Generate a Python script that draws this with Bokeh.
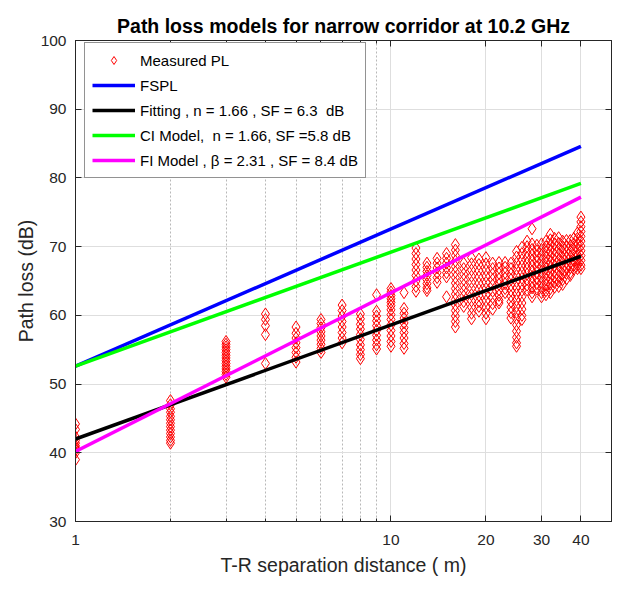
from bokeh.plotting import figure
from bokeh.models import (LinearAxis, LogAxis, FixedTicker, Legend, LegendItem,
                          Range1d, PrintfTickFormatter, CustomJSTickFormatter)
from bokeh.embed import file_html
from bokeh.resources import INLINE

# ---------------- data ----------------
measured_d = [1, 2, 3, 4, 5, 6, 7, 8, 9, 10, 11, 12, 13, 14, 15, 16, 17, 18, 19, 20,
              21, 22, 23, 24, 25, 26, 27, 28, 29, 30, 31, 32, 33, 34, 35, 36, 37, 38, 39, 40]
measured_pl = [
    [44.2, 43.4, 42.3, 41.8, 41.4, 41.0, 40.7, 40.4, 40.0, 39.0],
    [47.6, 47.0, 46.4, 45.9, 45.3, 44.8, 44.3, 43.8, 43.3, 42.8, 42.3, 41.8, 41.4],
    [56.2, 55.8, 55.4, 55.0, 54.6, 54.2, 53.8, 53.4, 53.0, 52.6, 52.2, 51.8, 51.4, 51.0],
    [60.2, 59.4, 58.5, 57.2, 53.0],
    [58.3, 57.4, 56.7, 56.0, 55.3, 54.6, 53.9, 53.2],
    [59.4, 58.8, 58.2, 57.6, 57.0, 56.4, 55.8, 55.2, 54.6],
    [61.5, 60.7, 59.9, 59.1, 58.3, 57.5, 56.7, 56.0],
    [60.2, 59.5, 58.7, 58.0, 57.2, 56.5, 55.7, 55.0, 54.3, 53.7],
    [63.0, 60.6, 59.9, 59.2, 58.5, 57.8, 57.1, 56.4, 55.7, 55.1],
    [63.9, 63.4, 62.9, 62.4, 61.9, 61.4, 60.8, 60.1, 59.4, 58.6, 57.8, 57.0, 56.2, 55.5],
    [63.3, 61.0, 60.3, 59.6, 58.9, 58.2, 57.5, 56.7, 55.9, 55.2],
    [69.8, 69.0, 68.2, 67.4, 66.6, 65.8, 65.0, 64.2, 63.5],
    [67.6, 67.0, 66.4, 65.8, 65.2, 64.6, 64.0, 63.6],
    [68.3, 67.6, 66.9, 66.2, 65.5, 64.8],
    [69.0, 68.3, 67.6, 66.9, 66.2, 65.6, 62.7],
    [70.3, 69.5, 68.7, 67.9, 67.1, 66.3, 65.5, 64.7, 63.9, 63.1, 62.3, 61.5, 60.7, 59.9, 59.1, 58.3],
    [67.6, 66.8, 66.0, 65.2, 64.4, 63.6, 62.8, 62.0, 61.3],
    [68.4, 67.5, 66.6, 65.7, 64.8, 63.9, 63.0, 62.1, 61.2, 60.3, 59.5],
    [68.2, 67.4, 66.5, 65.6, 64.7, 63.8, 62.9, 62.0, 61.3, 60.6],
    [68.4, 67.5, 66.6, 65.7, 64.8, 63.9, 63.0, 62.1, 61.2, 60.3, 59.5],
    [67.6, 66.8, 66.0, 65.2, 64.4, 63.5, 62.6, 61.7, 60.9],
    [67.7, 66.9, 66.1, 65.3, 64.5, 63.7, 62.9, 62.2, 61.8],
    [67.7, 67.0, 66.2, 65.4, 64.6, 63.9, 63.3],
    [67.6, 66.8, 66.0, 65.2, 64.4, 63.6, 62.8, 62.0, 61.2, 60.4, 59.6],
    [69.3, 68.5, 67.6, 66.7, 65.8, 64.9, 64.0, 63.1, 62.2, 61.3, 60.4, 59.5, 58.6, 57.7, 56.8, 56.0, 55.5],
    [69.9, 69.0, 68.1, 67.2, 66.3, 65.4, 64.5, 63.6, 62.7, 61.8, 60.9, 60.0, 59.4],
    [70.8, 70.0, 69.2, 68.4, 67.6, 66.8, 66.0, 65.2, 64.4, 63.7],
    [72.6, 70.4, 69.6, 68.8, 68.0, 67.2, 66.4, 65.6, 64.8, 64.0, 63.3, 62.7],
    [70.2, 69.4, 68.6, 67.8, 67.0, 66.2, 65.4, 64.6, 63.8],
    [70.4, 69.6, 68.8, 68.0, 67.2, 66.4, 65.6, 64.8, 64.0, 63.3, 62.7],
    [70.8, 70.0, 69.2, 68.4, 67.6, 66.8, 66.0, 65.2, 64.4, 63.6, 63.0],
    [71.8, 71.0, 70.2, 69.4, 68.6, 67.8, 67.0, 66.2, 65.4, 64.6, 63.9, 63.3],
    [71.2, 70.4, 69.6, 68.8, 68.0, 67.2, 66.4, 65.6, 64.8, 64.1],
    [71.3, 70.5, 69.7, 68.9, 68.1, 67.3, 66.5, 65.7, 64.9, 64.2],
    [70.8, 70.0, 69.2, 68.4, 67.6, 66.8, 66.0, 65.2, 64.5],
    [70.9, 70.1, 69.3, 68.5, 67.7, 66.9, 66.1, 65.3],
    [70.9, 70.1, 69.3, 68.5, 67.7, 66.9, 66.2, 65.8],
    [71.2, 70.4, 69.6, 68.8, 68.0, 67.3, 66.7],
    [72.0, 71.2, 70.4, 69.6, 68.8, 68.0, 67.3, 66.8],
    [74.3, 73.6, 72.9, 72.2, 71.5, 70.8, 70.1, 69.4, 68.7, 68.0, 67.3, 66.8],
]

model_d = [1, 40]
fspl = [52.6, 84.6]
fitting = [42.0, 68.6]
ci_model = [52.6, 79.2]
fi_model = [40.2, 77.2]

x_ticks = [1, 10, 20, 30, 40]
x_minor_ticks = [2, 3, 4, 5, 6, 7, 8, 9]
y_ticks = [30, 40, 50, 60, 70, 80, 90, 100]

labels = ["Measured PL", "FSPL", "Fitting , n = 1.66 , SF = 6.3  dB",
          "CI Model,  n = 1.66, SF =5.8 dB", "FI Model , \u03b2 = 2.31 , SF = 8.4 dB"]

# flatten measured data
xs, ys = [], []
for d, vals in zip(measured_d, measured_pl):
    for v in vals:
        xs.append(d)
        ys.append(v)

FONT = "Liberation Sans"
AX = "#262626"

W, H = 612, 578
BL, BR, BT, BB = 75, 1, 40, 56
FRAME_H = H - BT - BB

p = figure(width=W, height=H, x_axis_type="log",
           x_range=Range1d(1, 50), y_range=Range1d(30, 100),
           output_backend="svg", toolbar_location=None,
           min_border_left=BL, min_border_right=BR, min_border_top=BT, min_border_bottom=BB)

p.title.text = "Path loss models for narrow corridor at 10.2 GHz"
p.title.align = "center"
p.title.text_font = FONT
p.title.text_font_size = "19.5px"
p.title.text_font_style = "bold"
p.title.text_color = "black"
p.title.standoff = 8

p.outline_line_color = AX
p.outline_line_width = 1
p.background_fill_color = "white"
p.border_fill_color = "white"

xticker = FixedTicker(ticks=x_ticks, minor_ticks=x_minor_ticks)
yticker = FixedTicker(ticks=y_ticks, minor_ticks=[])

xa = p.xaxis[0]
xa.ticker = xticker
xa.formatter = PrintfTickFormatter(format="%d")
ya = p.yaxis[0]
ya.ticker = yticker

for ax in (xa, ya):
    ax.axis_line_color = AX
    ax.major_tick_line_color = AX
    ax.minor_tick_line_color = AX
    ax.major_tick_in = 6
    ax.major_tick_out = 0
    ax.minor_tick_in = 3
    ax.minor_tick_out = 0
    ax.major_label_text_font = FONT
    ax.major_label_text_font_size = "15.5px"
    ax.major_label_text_color = AX
    ax.axis_label_text_font = FONT
    ax.axis_label_text_font_size = "19.5px"
    ax.axis_label_text_font_style = "normal"
    ax.axis_label_text_color = AX

xa.axis_label = "T-R separation distance ( m)"
xa.major_label_standoff = 13
xa.axis_label_standoff = 6
ya.axis_label = "Path loss (dB)"
ya.major_label_standoff = 9
ya.axis_label_standoff = 1

top = LogAxis(ticker=FixedTicker(ticks=x_ticks, minor_ticks=x_minor_ticks),
              formatter=CustomJSTickFormatter(code="return ''"), major_label_standoff=0,
              major_tick_in=6, major_tick_out=0, minor_tick_in=3, minor_tick_out=0,
              axis_line_color=AX, major_tick_line_color=AX, minor_tick_line_color=AX)
p.add_layout(top, "above")
right = LinearAxis(ticker=FixedTicker(ticks=y_ticks, minor_ticks=[]),
                   formatter=CustomJSTickFormatter(code="return ''"), major_label_standoff=0,
                   major_tick_in=6, major_tick_out=0, minor_tick_in=0, minor_tick_out=0,
                   axis_line_color=AX, major_tick_line_color=AX)
p.add_layout(right, "right")

p.xgrid.ticker = xticker
p.xgrid.grid_line_color = "#dedede"
p.xgrid.grid_line_width = 1
p.xgrid.minor_grid_line_color = "#b8b8b8"
p.xgrid.minor_grid_line_dash = "2 2"
p.ygrid.ticker = yticker
p.ygrid.grid_line_color = "#dedede"
p.ygrid.grid_line_width = 1

r_meas = p.scatter(xs, ys, marker="diamond", size=12, line_color="red",
                   fill_color=None, line_width=1)
r_fspl = p.line(model_d, fspl, line_color="#0000ff", line_width=3.5)
r_fit = p.line(model_d, fitting, line_color="black", line_width=3.5)
r_ci = p.line(model_d, ci_model, line_color="#00ff00", line_width=3.5)
r_fi = p.line(model_d, fi_model, line_color="#ff00ff", line_width=3.5)

PAD, ROW, SP = 7, 20, 5
LEG_H = 2 * PAD + 5 * ROW + 4 * SP
legend = Legend(items=[LegendItem(label=labels[0], renderers=[r_meas]),
                       LegendItem(label=labels[1], renderers=[r_fspl]),
                       LegendItem(label=labels[2], renderers=[r_fit]),
                       LegendItem(label=labels[3], renderers=[r_ci]),
                       LegendItem(label=labels[4], renderers=[r_fi])],
                location=(9, FRAME_H - 5 - LEG_H), margin=0, padding=PAD, spacing=SP,
                glyph_width=43, glyph_height=ROW, label_height=ROW, label_standoff=5,
                label_text_font=FONT, label_text_font_size="15px", label_text_color="black",
                border_line_color=AX, border_line_width=1, background_fill_alpha=1)
p.add_layout(legend, "center")

open("out.html", "w").write(file_html(p, INLINE))
